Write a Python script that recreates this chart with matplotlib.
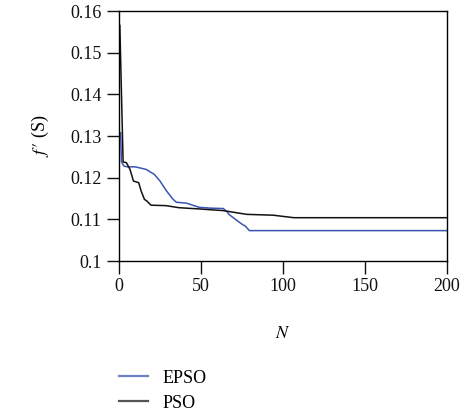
import matplotlib
matplotlib.use("Agg")
import matplotlib.pyplot as plt
from matplotlib.lines import Line2D

plt.rcParams['font.family'] = ['Liberation Serif', 'DejaVu Serif']
plt.rcParams['mathtext.fontset'] = 'stix'

# EPSO (blue)
epso_n = [0, 1, 1.5, 3, 5, 10, 16.5, 21.5, 25, 29, 33, 35, 41, 42.6, 48.8, 55.5, 63.6, 66, 67, 70, 75.5, 77, 79.5, 200]
epso_f = [0.1310, 0.1308, 0.1238, 0.1228, 0.1226, 0.1226, 0.1220, 0.1208, 0.1192, 0.1168, 0.1148, 0.1141, 0.1139, 0.1137, 0.1129, 0.1127, 0.1126, 0.1118, 0.1112, 0.1103, 0.1087, 0.1084, 0.1073, 0.1073]

# PSO (black)
pso_n = [0, 0.5, 2.5, 4.5, 6.7, 8.8, 12, 13.5, 15.5, 17, 19.5, 28.5, 36.6, 49, 63.6, 77.9, 94, 106.7, 200]
pso_f = [0.1566, 0.1566, 0.1238, 0.1236, 0.1220, 0.1192, 0.1188, 0.1168, 0.1148, 0.1144, 0.1134, 0.1133, 0.1128, 0.1125, 0.1121, 0.1112, 0.1110, 0.1104, 0.1104]

x_ticks = [0, 50, 100, 150, 200]
y_ticks = [0.10, 0.11, 0.12, 0.13, 0.14, 0.15, 0.16]
y_labels = ['0.1', '0.11', '0.12', '0.13', '0.14', '0.15', '0.16']

fig = plt.figure(figsize=(4.73, 4.19), dpi=100)
ax = fig.add_axes([0.2516, 0.377, 0.6934, 0.5967])

ax.plot(epso_n, epso_f, color='#3a55b0', lw=1.1)
ax.plot(pso_n, pso_f, color='#111111', lw=1.1)

ax.set_xlim(0, 200)
ax.set_ylim(0.10, 0.16)
ax.set_xticks(x_ticks)
ax.set_yticks(y_ticks)
ax.set_yticklabels(y_labels)
ax.tick_params(direction='out', length=9, width=1, labelsize=13, colors='#111111')
for s in ax.spines.values():
    s.set_linewidth(1.0)

ax.set_xlabel('$N$', fontsize=13, labelpad=21)
ax.set_ylabel("$f\\,{\\prime}$ (S)", fontsize=13, labelpad=14)

handles = [Line2D([], [], color='#6f80c4', lw=1.6), Line2D([], [], color='#555555', lw=1.6)]
fig.legend(handles, ['EPSO', 'PSO'], loc='upper left', bbox_to_anchor=(0.236, 0.135),
           frameon=False, fontsize=13, handlelength=1.6, handletextpad=0.8,
           labelspacing=0.45, borderaxespad=0)

fig.savefig('out.png', dpi=100)
